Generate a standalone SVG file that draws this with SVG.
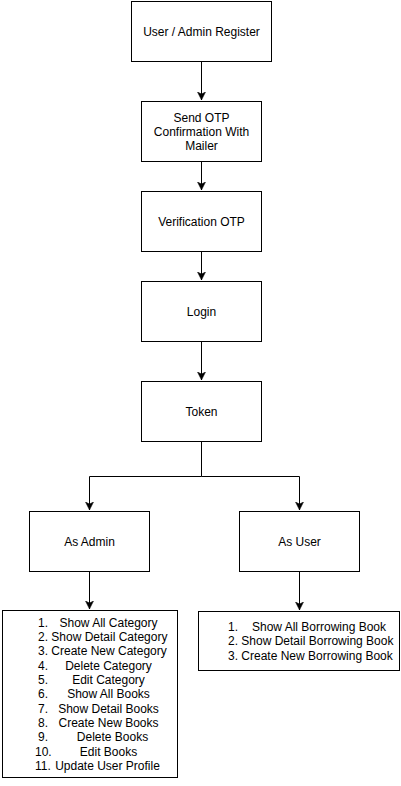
<svg xmlns="http://www.w3.org/2000/svg" width="401" height="786" viewBox="0 0 401 786">
<style>
.box{fill:#fff;stroke:#000;stroke-width:1}
.t{font-family:"Liberation Sans",Arial,sans-serif;font-size:12px;fill:#000}
.m{text-anchor:middle}
.c{fill:none;stroke:#000;stroke-width:1}
</style>
<defs>
<marker id="arr" markerUnits="userSpaceOnUse" markerWidth="10" markerHeight="10" refX="8" refY="4" orient="auto" viewBox="0 0 10 10">
<path d="M0,0 L8,4 L0,8 L2,4 z" fill="#000" stroke="#000" stroke-width="0.5"/>
</marker>
</defs>
<rect width="401" height="786" fill="#fff"/>
<g id="connectors">
<path class="c" d="M201.5,61.5 V100" marker-end="url(#arr)"/>
<path class="c" d="M201.5,161.5 V190" marker-end="url(#arr)"/>
<path class="c" d="M201.5,251.5 V280" marker-end="url(#arr)"/>
<path class="c" d="M201.5,341.5 V380" marker-end="url(#arr)"/>
<path class="c" d="M201.5,441.5 V476.5 H89.5 V510" marker-end="url(#arr)"/>
<path class="c" d="M201.5,476.5 H299.5 V510" marker-end="url(#arr)"/>
<path class="c" d="M89.5,571.5 V609" marker-end="url(#arr)"/>
<path class="c" d="M299.5,571.5 V610" marker-end="url(#arr)"/>
</g>
<g id="register">
<rect class="box" x="131.5" y="1.5" width="140" height="60"/>
<text class="t m" x="201.5" y="35.5">User / Admin Register</text>
</g>
<g id="send-otp">
<rect class="box" x="141.5" y="101.5" width="120" height="60"/>
<text class="t m" x="201.5" y="121.5">Send OTP</text>
<text class="t m" x="201.5" y="135.5">Confirmation With</text>
<text class="t m" x="201.5" y="149.5">Mailer</text>
</g>
<g id="verification">
<rect class="box" x="141.5" y="191.5" width="120" height="60"/>
<text class="t m" x="201.5" y="225.5">Verification OTP</text>
</g>
<g id="login">
<rect class="box" x="141.5" y="281.5" width="120" height="60"/>
<text class="t m" x="201.5" y="315.5">Login</text>
</g>
<g id="token">
<rect class="box" x="141.5" y="381.5" width="120" height="60"/>
<text class="t m" x="201.5" y="415.5">Token</text>
</g>
<g id="as-admin">
<rect class="box" x="29.5" y="511.5" width="120" height="60"/>
<text class="t m" x="89.5" y="545.5">As Admin</text>
</g>
<g id="as-user">
<rect class="box" x="239.5" y="511.5" width="120" height="60"/>
<text class="t m" x="299.5" y="545.5">As User</text>
</g>
<g id="admin-list">
<rect class="box" x="2.5" y="610.5" width="175" height="167"/>
<text class="t" x="38" y="626.5">1.</text><text class="t m" x="108.5" y="626.5">Show All Category</text>
<text class="t" x="38" y="640.8">2. Show Detail Category</text>
<text class="t" x="38" y="655.2">3. Create New Category</text>
<text class="t" x="38" y="669.5">4.</text><text class="t m" x="108.5" y="669.5">Delete Category</text>
<text class="t" x="38" y="683.8">5.</text><text class="t m" x="108.5" y="683.8">Edit Category</text>
<text class="t" x="38" y="698.2">6.</text><text class="t m" x="108.5" y="698.2">Show All Books</text>
<text class="t" x="38" y="712.5">7.</text><text class="t m" x="108.5" y="712.5">Show Detail Books</text>
<text class="t" x="38" y="726.8">8.</text><text class="t m" x="108.5" y="726.8">Create New Books</text>
<text class="t" x="38" y="741.2">9.</text><text class="t m" x="112.5" y="741.2">Delete Books</text>
<text class="t" x="35" y="755.5">10.</text><text class="t m" x="108.5" y="755.5">Edit Books</text>
<text class="t" x="35" y="769.8">11.</text><text class="t m" x="107.5" y="769.8">Update User Profile</text>
</g>
<g id="user-list">
<rect class="box" x="198.5" y="611.5" width="201" height="59"/>
<text class="t" x="228" y="630.8">1.</text><text class="t m" x="319" y="630.8">Show All Borrowing Book</text>
<text class="t" x="228" y="645.1">2. Show Detail Borrowing Book</text>
<text class="t" x="228" y="659.5">3. Create New Borrowing Book</text>
</g>
</svg>
